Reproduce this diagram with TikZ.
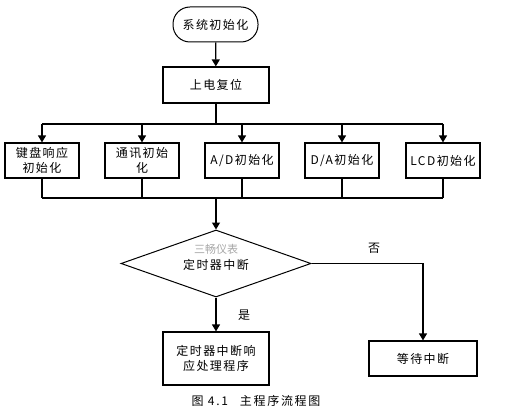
\documentclass[tikz,border=0pt]{standalone}
\usepackage{fontspec}
\setmainfont{Noto Sans CJK SC}
\usetikzlibrary{shapes.geometric,arrows.meta}
\begin{document}
\begin{tikzpicture}[x=1pt,y=-1pt,
  font=\fontsize{12}{15}\selectfont\addfontfeature{LetterSpace=12},
  box/.style={draw,line width=1.2pt,minimum width=#1,inner sep=0pt,align=center},
  box/.default=74pt,
  ln/.style={line width=1.3pt},
  bus/.style={line width=2pt},
  arr/.style={line width=1.3pt,-{Triangle[length=7pt,width=8pt]}}]
\useasboundingbox (0,0) rectangle (511,414);
\node[draw,line width=1pt,rounded corners=17pt,minimum width=85pt,minimum height=35pt,inner sep=0pt] (start) at (215.5,24.5) {系统初始化};
\node[box=106pt,minimum height=36pt] (reset) at (216,85) {上电复位};
\node[box,minimum height=35pt] (b1) at (42,160.5) {键盘响应\\初始化};
\node[box,minimum height=35pt] (b2) at (142,160.5) {通讯初始\\化};
\node[box,minimum height=35pt] (b3) at (242,160.5) {A/D初始化};
\node[box,minimum height=35pt] (b4) at (342,160.5) {D/A初始化};
\node[box,minimum height=35pt] (b5) at (443,160.5) {LCD初始化};
\node[draw,line width=1pt,diamond,aspect=2.84,minimum width=190pt,minimum height=67pt,inner sep=0pt] (dec) at (216,263.5) {};
\node[text=black!35,font=\fontsize{11}{13}\selectfont] (wm) at (216,249) {三畅仪表};
\node (dtxt) at (216,265) {定时器中断};
\node[box=106pt,minimum height=53pt] (isr) at (216,358.5) {定时器中断响\\应处理程序};
\node[box=108pt,minimum height=35pt] (wait) at (423,358.5) {等待中断};
\node (no) at (374,248) {否};
\node (yes) at (244,315) {是};
\node[font=\fontsize{12}{14}\selectfont\addfontfeature{LetterSpace=14}] (cap) at (256,401) {图 4.1\quad 主程序流程图};
\coordinate (top) at (216,124);
\coordinate (bot) at (216,198);
\coordinate (tl) at (42,124);
\coordinate (tr) at (443,124);
\coordinate (bl) at (42,198);
\coordinate (br) at (443,198);
\draw[arr] (start) -- (reset);
\draw[bus] (reset) -- (top);
\draw[bus] (tl) -- (tr);
\foreach \b in {b1,b2,b3,b4,b5}{
  \draw[arr] (tl -| \b) -- (\b.north);
  \draw[ln] (\b.south) -- (bl -| \b);
}
\draw[bus] (bl) -- (br);
\draw[arr] (bot) -- (dec.north);
\draw[arr] (dec.south) -- (isr);
\draw[arr] (dec.east) -| (wait.north);
\end{tikzpicture}
\end{document}
